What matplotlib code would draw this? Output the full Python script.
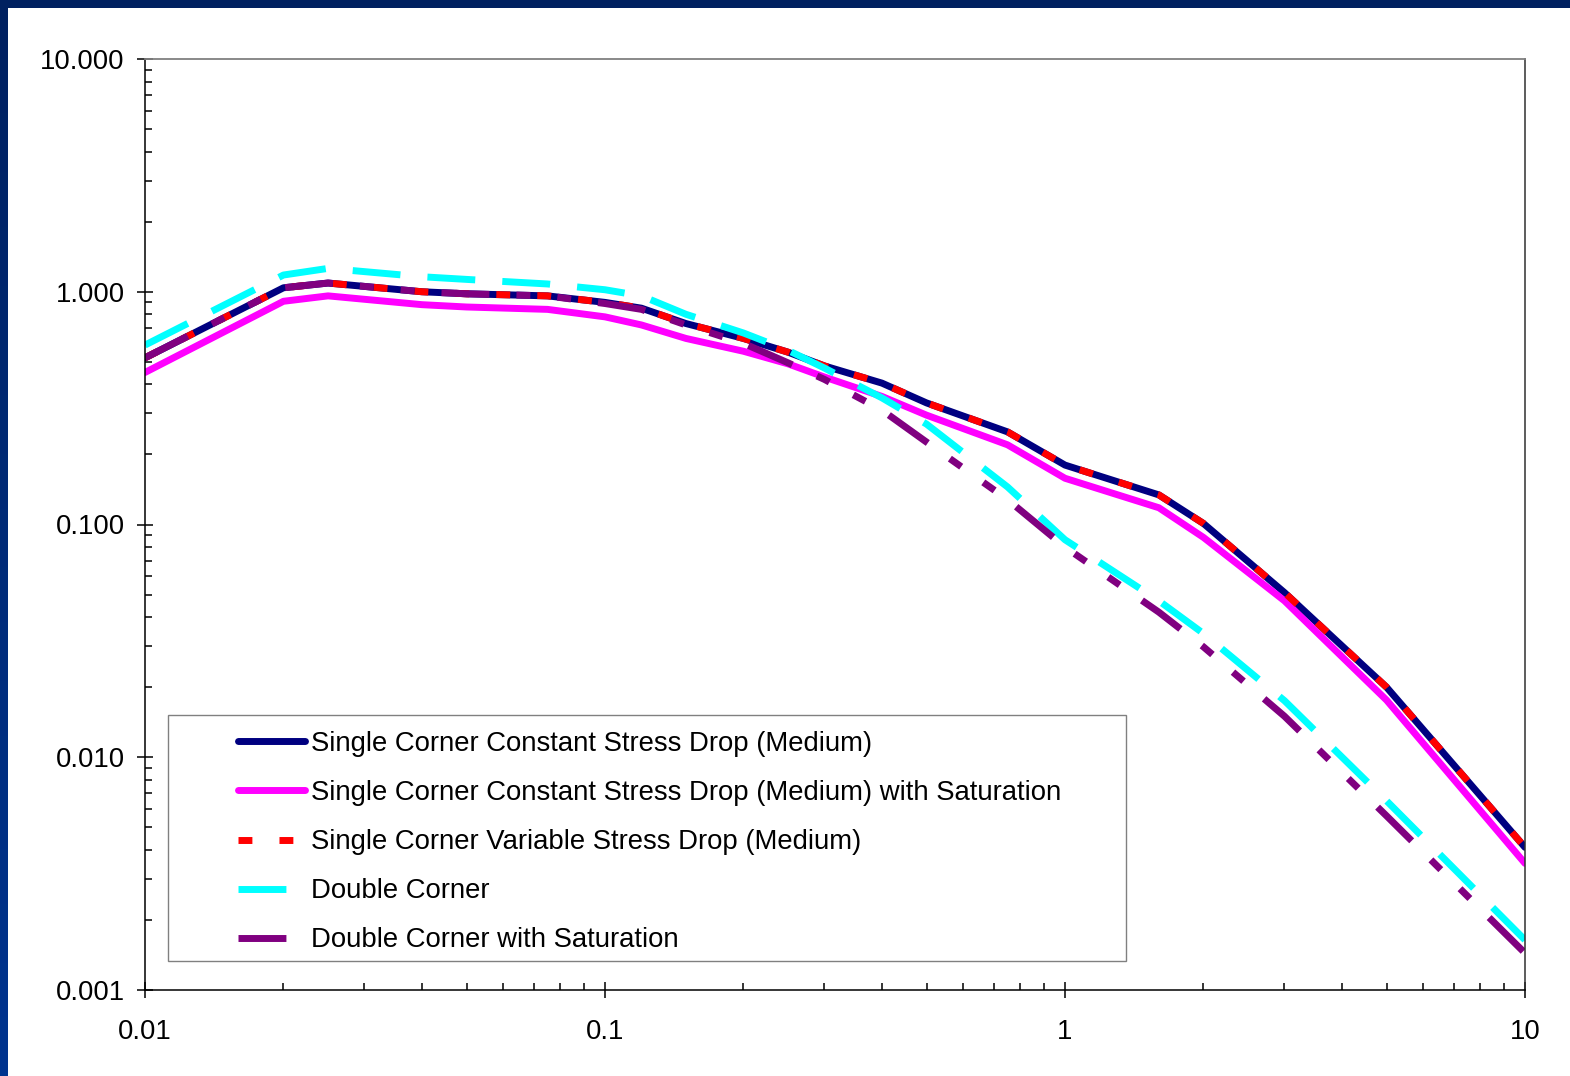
import numpy as np
import matplotlib
matplotlib.use('Agg')
import matplotlib.pyplot as plt
from matplotlib.patches import Rectangle
from matplotlib.colors import LinearSegmentedColormap
from matplotlib.ticker import FixedLocator, FixedFormatter, FormatStrFormatter, LogLocator, NullFormatter

plt.rcParams['font.family'] = ['Liberation Sans', 'DejaVu Sans']
plt.rcParams['lines.scale_dashes'] = False

# spectral period (s)
period = [0.01, 0.02, 0.025, 0.04, 0.05, 0.075, 0.1, 0.12, 0.15, 0.2, 0.25,
          0.3, 0.4, 0.5, 0.75, 1.0, 1.6, 2.0, 3.0, 5.0, 10.0]

single_const = [0.52, 1.04, 1.09, 1.00, 0.98, 0.96, 0.90, 0.85, 0.73, 0.63, 0.55,
                0.48, 0.405, 0.333, 0.25, 0.18, 0.134, 0.101, 0.051, 0.020, 0.0041]
single_const_sat = [0.45, 0.91, 0.96, 0.88, 0.86, 0.84, 0.78, 0.72, 0.63, 0.555, 0.49,
                    0.43, 0.355, 0.295, 0.22, 0.158, 0.118, 0.088, 0.047, 0.0176, 0.0035]
single_var = [0.52, 1.04, 1.09, 1.00, 0.98, 0.96, 0.90, 0.85, 0.73, 0.63, 0.55,
              0.48, 0.405, 0.333, 0.25, 0.18, 0.134, 0.101, 0.051, 0.020, 0.0041]
double_corner = [0.59, 1.18, 1.26, 1.16, 1.13, 1.08, 1.02, 0.96, 0.80, 0.665, 0.56,
                 0.47, 0.35, 0.27, 0.145, 0.086, 0.047, 0.034, 0.0175, 0.0065, 0.00164]
double_corner_sat = [0.52, 1.04, 1.09, 1.00, 0.98, 0.96, 0.89, 0.84, 0.72, 0.60, 0.495,
                     0.42, 0.31, 0.226, 0.128, 0.080, 0.042, 0.0298, 0.015, 0.0056, 0.00144]

labels = ['Single Corner Constant Stress Drop (Medium)',
          'Single Corner Constant Stress Drop (Medium) with Saturation',
          'Single Corner Variable Stress Drop (Medium)',
          'Double Corner',
          'Double Corner with Saturation']

W, H = 1570, 1076
fig = plt.figure(figsize=(W / 100, H / 100), dpi=100)

# blue slide background with white panel
bg = fig.add_axes([0, 0, 1, 1], zorder=-1)
grad = np.linspace(0, 1, 256).reshape(-1, 1)
cmap = LinearSegmentedColormap.from_list('slide', ['#00348f', '#002160'])
bg.imshow(grad, aspect='auto', extent=[0, 1, 0, 1], cmap=cmap, origin='lower')
bg.add_patch(Rectangle((8 / W, 0), 1, 1 - 8 / H, facecolor='white', edgecolor='none'))
bg.set_xlim(0, 1)
bg.set_ylim(0, 1)
bg.axis('off')

ax = fig.add_axes([145 / W, 86 / H, 1380 / W, 931 / H])
lw = 5.0
ax.plot(period, single_const, color='#000080', lw=lw, solid_capstyle='round',
        solid_joinstyle='round', label=labels[0])
ax.plot(period, single_const_sat, color='#ff00ff', lw=lw, solid_capstyle='round',
        solid_joinstyle='round', label=labels[1])
ax.plot(period, single_var, color='#ff0000', lw=lw, linestyle=(0, (10, 19.5)),
        label=labels[2])
ax.plot(period, double_corner, color='#00ffff', lw=lw, linestyle=(0, (34.5, 19.5)),
        label=labels[3])
ax.plot(period, double_corner_sat, color='#800080', lw=lw,
        linestyle=(0, (34.5, 19.5, 10, 19.5, 10, 19.5)), label=labels[4])

ax.set_xscale('log')
ax.set_yscale('log')
ax.set_xlim(0.01, 10)
ax.set_ylim(0.001, 10)

ax.xaxis.set_major_locator(FixedLocator([0.01, 0.1, 1, 10]))
ax.xaxis.set_major_formatter(FixedFormatter(['0.01', '0.1', '1', '10']))
ax.yaxis.set_major_locator(FixedLocator([0.001, 0.01, 0.1, 1, 10]))
ax.yaxis.set_major_formatter(FormatStrFormatter('%.3f'))
for axis in (ax.xaxis, ax.yaxis):
    axis.set_minor_locator(LogLocator(base=10, subs=np.arange(2, 10)))
    axis.set_minor_formatter(NullFormatter())

ax.tick_params(which='major', direction='inout', length=11, width=1.1,
               labelsize=19.8, color='black')
ax.tick_params(axis='y', which='major', pad=9)
ax.tick_params(axis='x', which='major', pad=15.5)
ax.tick_params(which='minor', direction='in', length=5, width=1.1, color='black')

for side in ('left', 'bottom'):
    ax.spines[side].set_linewidth(1.1)
    ax.spines[side].set_color('black')
ax.spines['top'].set_color('#808080')
ax.spines['top'].set_linewidth(1.3)
ax.spines['right'].set_color('#303030')
ax.spines['right'].set_linewidth(1.1)

# legend box
ax.add_patch(Rectangle((168 / W, (H - 961) / H), 958 / W, 246 / H,
                       transform=fig.transFigure, facecolor='white',
                       edgecolor='#808080', lw=1.0, zorder=4, clip_on=False))
ax.legend(loc='upper left', bbox_to_anchor=(238 / W, (H - 731) / H),
          bbox_transform=fig.transFigure, frameon=False, fontsize=19.8,
          borderpad=0, borderaxespad=0, handlelength=2.45, handletextpad=0.2,
          labelspacing=0.84)

fig.savefig('out.png', dpi=100)
